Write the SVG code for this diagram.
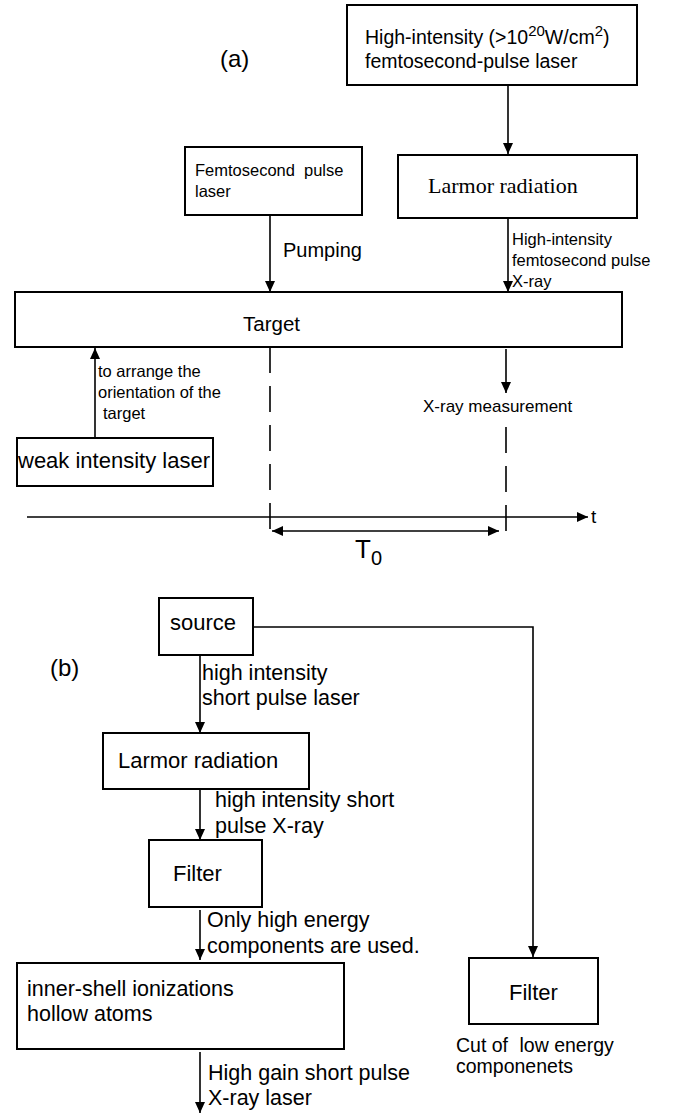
<svg xmlns="http://www.w3.org/2000/svg" width="678" height="1115" viewBox="0 0 678 1115">
<style>
.box{fill:#fff;stroke:#000;stroke-width:2}
.ln{fill:none;stroke:#000;stroke-width:1.6}
.dash{fill:none;stroke:#000;stroke-width:1.6;stroke-dasharray:26 13}
text{font-family:"Liberation Sans",Arial,sans-serif;fill:#000}
.serif{font-family:"Liberation Serif","Times New Roman",serif}
</style>
<defs>
<marker id="ah" markerUnits="userSpaceOnUse" markerWidth="12" markerHeight="10" refX="11" refY="5" orient="auto">
<path d="M0,0 L11,5 L0,10 z" fill="#000"/>
</marker>
<marker id="ahs" markerUnits="userSpaceOnUse" markerWidth="12" markerHeight="10" refX="1" refY="5" orient="auto">
<path d="M12,0 L1,5 L12,10 z" fill="#000"/>
</marker>
</defs>

<text x="220" y="67" font-size="24">(a)</text>
<text x="50" y="676" font-size="24">(b)</text>

<g id="connectors">
<line class="ln" x1="508" y1="85" x2="508" y2="154" marker-end="url(#ah)"/>
<line class="ln" x1="270" y1="216" x2="270" y2="292" marker-end="url(#ah)"/>
<line class="ln" x1="508" y1="219" x2="508" y2="292" marker-end="url(#ah)"/>
<line class="ln" x1="95" y1="438" x2="95" y2="348" marker-end="url(#ah)"/>
<line class="ln" x1="506" y1="349" x2="506" y2="393" marker-end="url(#ah)"/>
<line class="dash" x1="270" y1="347" x2="270" y2="532"/>
<line class="dash" x1="506" y1="427" x2="506" y2="532"/>
<line class="ln" x1="27" y1="517" x2="588" y2="517" marker-end="url(#ah)"/>
<line class="ln" x1="272" y1="531" x2="499" y2="531" marker-start="url(#ahs)" marker-end="url(#ah)"/>
<line class="ln" x1="200" y1="655" x2="200" y2="733" marker-end="url(#ah)"/>
<line class="ln" x1="200" y1="789" x2="200" y2="840" marker-end="url(#ah)"/>
<line class="ln" x1="200" y1="910" x2="200" y2="960" marker-end="url(#ah)"/>
<line class="ln" x1="200" y1="1052" x2="200" y2="1113" marker-end="url(#ah)"/>
<polyline class="ln" points="253,627 533,627 533,957" marker-end="url(#ah)"/>
</g>

<g id="labels">
<text x="283" y="257" font-size="20">Pumping</text>
<text x="512" y="245" font-size="16.5">High-intensity</text>
<text x="512" y="266" font-size="16.5">femtosecond pulse</text>
<text x="512" y="287" font-size="16.5">X-ray</text>
<text x="98" y="377" font-size="16.5">to arrange the</text>
<text x="98" y="398" font-size="16.5">orientation of the</text>
<text x="103" y="419" font-size="16.5">target</text>
<text x="423" y="412" font-size="17">X-ray measurement</text>
<text x="591" y="523" font-size="19">t</text>
<text x="355" y="558" font-size="26">T<tspan font-size="20" dy="7">0</tspan></text>
<text x="202" y="680" font-size="21.5">high intensity</text>
<text x="202" y="705" font-size="21.5">short pulse laser</text>
<text x="215" y="807" font-size="21.5">high intensity short</text>
<text x="215" y="833" font-size="21.5">pulse X-ray</text>
<text x="207" y="927" font-size="21.5">Only high energy</text>
<text x="207" y="953" font-size="21.5">components are used.</text>
<text x="208" y="1080" font-size="21.5">High gain short pulse</text>
<text x="208" y="1105" font-size="21.5">X-ray laser</text>
<text x="456" y="1052" font-size="19.5">Cut of <tspan dx="6">low energy</tspan></text>
<text x="456" y="1073" font-size="19.5">componenets</text>
</g>

<g id="node-top-laser">
<rect class="box" x="347" y="5" width="290" height="80"/>
<text x="365" y="44" font-size="19.5">High-intensity (&gt;10<tspan font-size="15" dy="-8">20</tspan><tspan dy="8">W/cm</tspan><tspan font-size="15" dy="-8">2</tspan><tspan dy="8">)</tspan></text>
<text x="365" y="68" font-size="19.5">femtosecond-pulse laser</text>
</g>

<g id="node-femto">
<rect class="box" x="185" y="147" width="177" height="68"/>
<text x="195" y="176" font-size="16.5">Femtosecond<tspan dx="9">pulse</tspan></text>
<text x="195" y="197" font-size="16.5">laser</text>
</g>

<g id="node-larmor-a">
<rect class="box" x="398" y="155" width="239" height="63"/>
<text class="serif" x="428" y="193" font-size="22">Larmor radiation</text>
</g>

<g id="node-target">
<rect class="box" x="15" y="292" width="607" height="55"/>
<text x="243" y="331" font-size="20.5">Target</text>
</g>

<g id="node-weak">
<rect class="box" x="17" y="438" width="196" height="48"/>
<text x="18" y="468" font-size="22">weak intensity laser</text>
</g>

<g id="node-source">
<rect class="box" x="159" y="598" width="94" height="57"/>
<text x="170" y="630" font-size="22">source</text>
</g>

<g id="node-larmor-b">
<rect class="box" x="103" y="733" width="206" height="56"/>
<text x="118" y="768" font-size="22">Larmor radiation</text>
</g>

<g id="node-filter-b">
<rect class="box" x="149" y="840" width="113" height="67"/>
<text x="173" y="881" font-size="22">Filter</text>
</g>

<g id="node-inner">
<rect class="box" x="17" y="963" width="327" height="86"/>
<text x="27" y="996" font-size="21.5">inner-shell ionizations</text>
<text x="27" y="1021" font-size="21.5">hollow atoms</text>
</g>

<g id="node-filter-right">
<rect class="box" x="469" y="958" width="129" height="66"/>
<text x="509" y="1000" font-size="22">Filter</text>
</g>
</svg>
